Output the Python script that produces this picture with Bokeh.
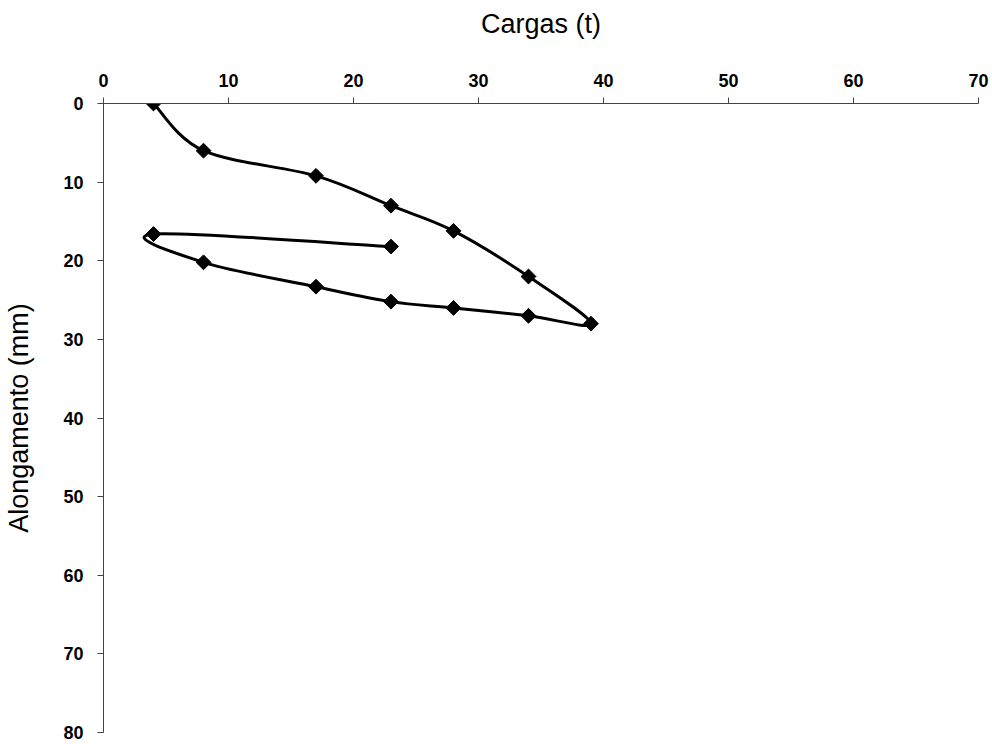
import math
from bokeh.plotting import figure
from bokeh.models import Range1d, FixedTicker
from bokeh.embed import file_html
from bokeh.resources import INLINE

# Data
cargas = [4, 8, 17, 23, 28, 34, 39, 34, 28, 23, 17, 8, 4, 23]
alongamento = [0, 6, 9.2, 13, 16.2, 22, 28, 27, 26, 25.2, 23.3, 20.2, 16.6, 18.2]
x_ticks = [0, 10, 20, 30, 40, 50, 60, 70]
y_ticks = [0, 10, 20, 30, 40, 50, 60, 70, 80]

FONT = "Liberation Sans"

p = figure(width=992, height=744, output_backend="svg", toolbar_location=None,
           x_axis_location="above",
           x_range=Range1d(0, 70), y_range=Range1d(80, 0),
           min_border_left=103, min_border_top=103, min_border_right=14, min_border_bottom=12)
p.xgrid.visible = False
p.ygrid.visible = False
p.outline_line_color = None
p.background_fill_color = "white"
p.border_fill_color = "white"

for ax, ticks in ((p.xaxis[0], x_ticks), (p.yaxis[0], y_ticks)):
    ax.ticker = FixedTicker(ticks=ticks)
    ax.minor_tick_line_color = None
    ax.major_tick_out = 6
    ax.major_tick_in = 0
    ax.axis_line_color = "#444444"
    ax.axis_line_width = 1
    ax.major_tick_line_color = "#444444"
    ax.major_label_text_font = FONT
    ax.major_label_text_font_style = "bold"
    ax.major_label_text_font_size = "18px"
    ax.major_label_text_color = "black"
    ax.axis_label_text_font = FONT
    ax.axis_label_text_font_style = "normal"
    ax.axis_label_text_font_size = "27px"
    ax.axis_label_text_color = "black"

p.xaxis[0].axis_label = "Cargas (t)"
p.yaxis[0].axis_label = "Alongamento (mm)"
p.xaxis[0].major_label_standoff = 11
p.yaxis[0].major_label_standoff = 14
p.xaxis[0].axis_label_standoff = 32
p.yaxis[0].axis_label_standoff = 26

# Smoothed curve through the points (Catmull-Rom style Bezier segments)
n = len(cargas)
x0, y0, x1, y1, cx0, cy0, cx1, cy1 = [], [], [], [], [], [], [], []
for i in range(n - 1):
    pa = i - 1 if i > 0 else i
    pd = i + 2 if i + 2 < n else i + 1
    xa, ya = cargas[pa], alongamento[pa]
    xb, yb = cargas[i], alongamento[i]
    xc, yc = cargas[i + 1], alongamento[i + 1]
    xd, yd = cargas[pd], alongamento[pd]
    x0.append(xb); y0.append(yb)
    x1.append(xc); y1.append(yc)
    cx0.append(xb + (xc - xa) / 6.0); cy0.append(yb + (yc - ya) / 6.0)
    cx1.append(xc - (xd - xb) / 6.0); cy1.append(yc - (yd - yb) / 6.0)

p.bezier(x0=x0, y0=y0, x1=x1, y1=y1, cx0=cx0, cy0=cy0, cx1=cx1, cy1=cy1,
         line_color="black", line_width=3)
p.scatter(cargas, alongamento, marker="square", size=10.5, angle=math.pi / 4,
          fill_color="black", line_color="black", line_width=1)

open("out.html", "w").write(file_html(p, INLINE))
